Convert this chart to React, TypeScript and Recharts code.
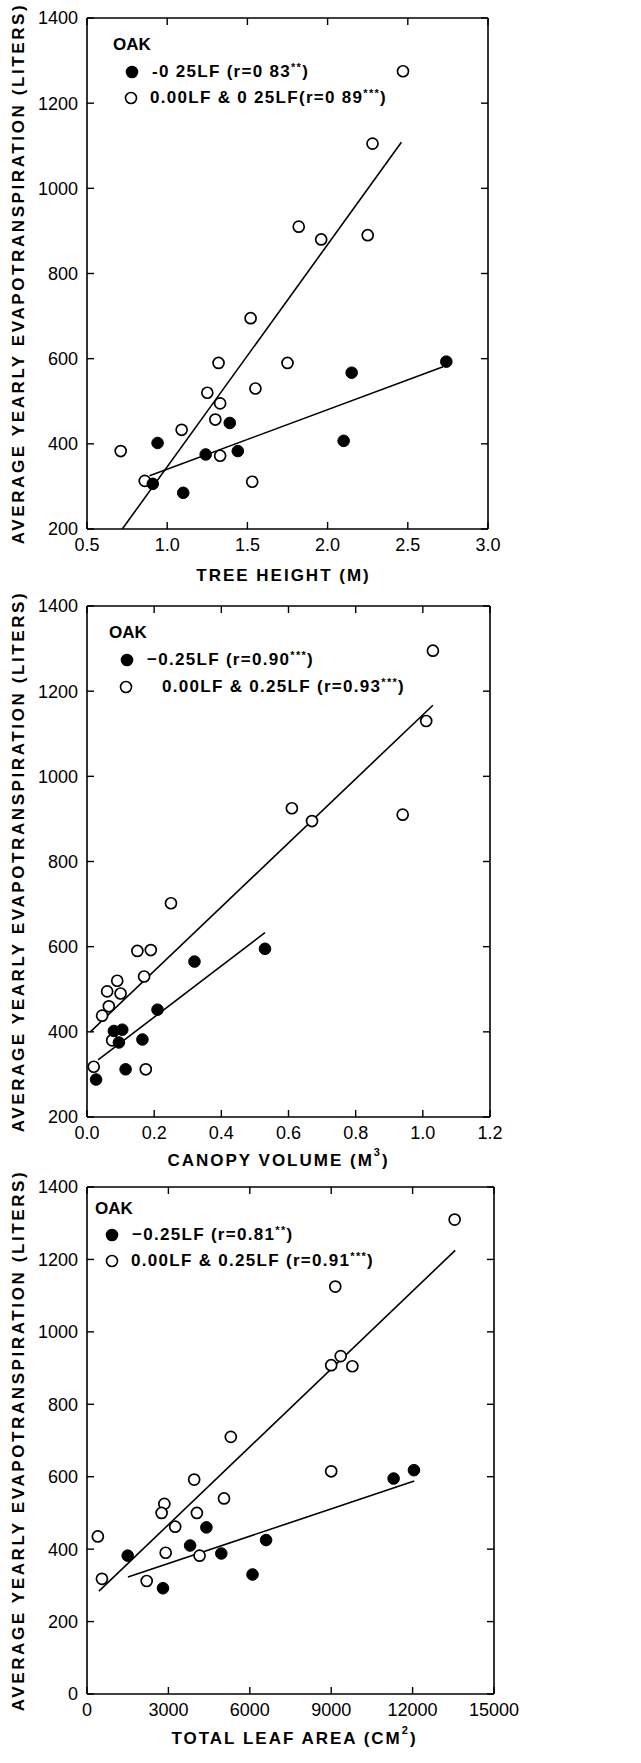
import React from "react";
import { ScatterChart, Scatter, XAxis, YAxis } from "recharts";

// ---- panel 1: tree height ----
const heightTicks = [0.5, 1.0, 1.5, 2.0, 2.5, 3.0];
const heightOpenX = [2.47, 2.28, 1.82, 1.96, 2.25, 1.52, 1.32, 1.75, 1.25, 1.33, 1.55, 1.30, 1.09, 0.71, 1.33, 0.86, 1.53];
const heightOpenY = [1275, 1105, 910, 880, 890, 695, 590, 590, 520, 495, 530, 457, 433, 383, 372, 313, 311];
const heightFilledX = [2.74, 2.15, 1.39, 0.94, 1.24, 1.44, 2.10, 0.91, 1.10];
const heightFilledY = [593, 567, 449, 402, 375, 383, 407, 306, 285];
const heightFitOpenX = [0.72, 2.46];
const heightFitOpenY = [200, 1108];
const heightFitFilledX = [0.89, 2.72];
const heightFitFilledY = [325, 581];

// ---- panel 2: canopy volume ----
const canopyTicks = [0, 0.2, 0.4, 0.6, 0.8, 1.0, 1.2];
const canopyOpenX = [1.03, 1.01, 0.61, 0.67, 0.94, 0.25, 0.15, 0.19, 0.17, 0.09, 0.06, 0.10, 0.065, 0.045, 0.075, 0.02, 0.175];
const canopyOpenY = [1295, 1130, 925, 895, 910, 702, 590, 592, 530, 520, 495, 490, 460, 438, 380, 318, 312];
const canopyFilledX = [0.53, 0.32, 0.21, 0.08, 0.105, 0.095, 0.165, 0.115, 0.027];
const canopyFilledY = [595, 565, 452, 402, 405, 375, 382, 312, 288];
const canopyFitOpenX = [0.01, 1.03];
const canopyFitOpenY = [400, 1167];
const canopyFitFilledX = [0.033, 0.53];
const canopyFitFilledY = [334, 633];

// ---- panel 3: total leaf area ----
const leafTicks = [0, 3000, 6000, 9000, 12000, 15000];
const leafOpenX = [13550, 9150, 9000, 9350, 9780, 5300, 9000, 3950, 5050, 2850, 2750, 4050, 3250, 400, 2900, 4150, 550, 2200];
const leafOpenY = [1310, 1125, 908, 933, 905, 710, 615, 592, 540, 525, 500, 500, 462, 435, 390, 382, 318, 312];
const leafFilledX = [12050, 11300, 4400, 3800, 1500, 4950, 6600, 6100, 2800];
const leafFilledY = [618, 595, 460, 410, 382, 388, 425, 330, 292];
const leafFitOpenX = [440, 13570];
const leafFitOpenY = [284, 1225];
const leafFitFilledX = [1510, 12060];
const leafFitFilledY = [323, 588];

const etTicks = [200, 400, 600, 800, 1000, 1200, 1400];
const etTicksZero = [0, 200, 400, 600, 800, 1000, 1200, 1400];

const Y_TITLE = "AVERAGE YEARLY EVAPOTRANSPIRATION (LITERS)";
const FONT = '"Liberation Sans", Arial, sans-serif';

const pairs = (xs: number[], ys: number[]) => xs.map((x, i) => ({ x, y: ys[i] }));

const OpenDot = (p: any) => (
  <circle cx={p.cx} cy={p.cy} r={5.5} fill="#fff" stroke="#000" strokeWidth={1.7} />
);
const FilledDot = (p: any) => (
  <circle cx={p.cx} cy={p.cy} r={5.8} fill="#000" stroke="#000" strokeWidth={1} />
);
const NoDot = () => <g />;
const NoTick = () => <g />;

const YTitle = (props: any) => {
  const vb = props.viewBox || { x: 0, y: 0, width: 0, height: 0 };
  const cx = (vb.x || 0) + 18;
  const cy = vb.y + vb.height / 2;
  return (
    <text
      x={cx}
      y={cy}
      transform={`rotate(-90 ${cx} ${cy})`}
      textAnchor="middle"
      dominantBaseline="central"
      fontFamily={FONT}
      fontWeight="bold"
      fontSize={17}
      letterSpacing={2.6}
      fill="#000"
    >
      {Y_TITLE}
    </text>
  );
};

const XTitle = (props: any) => {
  const vb = props.viewBox || { x: 0, y: 0, width: 0, height: 0 };
  const cx = vb.x + vb.width / 2 + (props.shift || 0);
  const cy = vb.y + props.dy;
  return (
    <text
      x={cx}
      y={cy}
      textAnchor="middle"
      dominantBaseline="central"
      fontFamily={FONT}
      fontWeight="bold"
      fontSize={17}
      letterSpacing={2}
      fill="#000"
    >
      {props.text}
      {props.sup ? (
        <tspan dy={-8} fontSize={11}>{props.sup}</tspan>
      ) : null}
      {props.sup ? <tspan dy={8}>)</tspan> : null}
    </text>
  );
};

const tickStyle = { fill: "#000", fontSize: 18, fontFamily: FONT };
const axisLine = { stroke: "#000", strokeWidth: 1.6 };
const tickLine = { stroke: "#000", strokeWidth: 1.4 };

type LegendRow = { mx: number; my: number; tx: number; filled: boolean; text: string; stars: string };

const Legend = ({ oak, rows }: { oak: [number, number]; rows: LegendRow[] }) => (
  <div style={{ position: "absolute", left: 0, top: 0, fontFamily: FONT, fontWeight: "bold", fontSize: 17, color: "#000" }}>
    <div style={{ position: "absolute", left: oak[0], top: oak[1] - 10, lineHeight: "20px", whiteSpace: "nowrap" }}>OAK</div>
    {rows.map((r, i) => (
      <React.Fragment key={i}>
        <svg style={{ position: "absolute", left: r.mx - 7, top: r.my - 7 }} width={14} height={14}>
          <circle cx={7} cy={7} r={5.5} fill={r.filled ? "#000" : "#fff"} stroke="#000" strokeWidth={1.6} />
        </svg>
        <div style={{ position: "absolute", left: r.tx, top: r.my - 10, lineHeight: "20px", whiteSpace: "nowrap", letterSpacing: 1.3 }}>
          {r.text}
          <span style={{ fontSize: 11, verticalAlign: "top", lineHeight: "11px" }}>{r.stars}</span>)
        </div>
      </React.Fragment>
    ))}
  </div>
);

type PanelProps = {
  top: number;
  height: number;
  plotTop: number;
  plotBottom: number;
  plotRight: number;
  xDomain: [number, number];
  xTicks: number[];
  xFmt: (v: number) => string;
  yDomain: [number, number];
  yTicks: number[];
  xTitle: string;
  xSup?: string;
  xTitleDy: number;
  xTitleShift: number;
  open: { x: number; y: number }[];
  filled: { x: number; y: number }[];
  fitOpen: { x: number; y: number }[];
  fitFilled: { x: number; y: number }[];
  oak: [number, number];
  rows: LegendRow[];
};

const Panel = (p: PanelProps) => {
  const xAxisH = p.height - p.plotBottom;
  return (
    <div style={{ position: "absolute", left: 0, top: p.top, width: 641, height: p.height }}>
      <ScatterChart
        width={641}
        height={p.height}
        margin={{ top: p.plotTop - 1, right: 641 - p.plotRight - 1, bottom: 0, left: 0 }}
      >
        <XAxis
          type="number"
          dataKey="x"
          domain={p.xDomain}
          ticks={p.xTicks}
          tickFormatter={p.xFmt}
          allowDataOverflow
          height={xAxisH}
          axisLine={axisLine}
          tickLine={tickLine}
          tickSize={-7}
          tickMargin={16}
          tick={tickStyle}
          interval={0}
          label={<XTitle text={p.xTitle} sup={p.xSup} dy={p.xTitleDy} shift={p.xTitleShift} />}
        />
        <XAxis
          xAxisId="top"
          orientation="top"
          type="number"
          dataKey="x"
          domain={p.xDomain}
          ticks={p.xTicks}
          allowDataOverflow
          height={1}
          axisLine={axisLine}
          tickLine={tickLine}
          tickSize={-7}
          tick={NoTick}
          interval={0}
        />
        <YAxis
          type="number"
          dataKey="y"
          domain={p.yDomain}
          ticks={p.yTicks}
          allowDataOverflow
          width={87}
          axisLine={axisLine}
          tickLine={tickLine}
          tickSize={-7}
          tickMargin={16}
          tick={tickStyle}
          interval={0}
          label={<YTitle />}
        />
        <YAxis
          yAxisId="right"
          orientation="right"
          type="number"
          dataKey="y"
          domain={p.yDomain}
          ticks={p.yTicks}
          allowDataOverflow
          width={1}
          axisLine={axisLine}
          tickLine={tickLine}
          tickSize={-7}
          tick={NoTick}
          interval={0}
        />
        {/* invisible series so the top / right frame axes get drawn */}
        <Scatter data={p.fitOpen} xAxisId="top" yAxisId="right" shape={NoDot} isAnimationActive={false} legendType="none" />
        <Scatter data={p.fitOpen} line={{ stroke: "#000", strokeWidth: 1.6 }} shape={NoDot} isAnimationActive={false} legendType="none" />
        <Scatter data={p.fitFilled} line={{ stroke: "#000", strokeWidth: 1.6 }} shape={NoDot} isAnimationActive={false} legendType="none" />
        <Scatter data={p.open} shape={OpenDot} isAnimationActive={false} legendType="none" />
        <Scatter data={p.filled} shape={FilledDot} isAnimationActive={false} legendType="none" />
      </ScatterChart>
      <Legend oak={p.oak} rows={p.rows} />
    </div>
  );
};

export default function App() {
  return (
    <div style={{ position: "absolute", left: 0, top: 0, width: 641, height: 1763, background: "#fff" }}>
      <Panel
        top={0}
        height={600}
        plotTop={18}
        plotBottom={529}
        plotRight={488}
        xDomain={[0.5, 3.0]}
        xTicks={heightTicks}
        xFmt={(v) => v.toFixed(1)}
        yDomain={[200, 1400]}
        yTicks={etTicks}
        xTitle="TREE HEIGHT (M)"
        xTitleDy={46}
        xTitleShift={-4}
        open={pairs(heightOpenX, heightOpenY)}
        filled={pairs(heightFilledX, heightFilledY)}
        fitOpen={pairs(heightFitOpenX, heightFitOpenY)}
        fitFilled={pairs(heightFitFilledX, heightFitFilledY)}
        oak={[113, 45]}
        rows={[
          { mx: 132, my: 72, tx: 152, filled: true, text: "-0 25LF  (r=0 83", stars: "**" },
          { mx: 131, my: 98, tx: 150, filled: false, text: "0.00LF & 0 25LF(r=0 89", stars: "***" },
        ]}
      />
      <Panel
        top={590}
        height={600}
        plotTop={16}
        plotBottom={527}
        plotRight={490}
        xDomain={[0, 1.2]}
        xTicks={canopyTicks}
        xFmt={(v) => v.toFixed(1)}
        yDomain={[200, 1400]}
        yTicks={etTicks}
        xTitle="CANOPY VOLUME (M"
        xSup="3"
        xTitleDy={43}
        xTitleShift={-10}
        open={pairs(canopyOpenX, canopyOpenY)}
        filled={pairs(canopyFilledX, canopyFilledY)}
        fitOpen={pairs(canopyFitOpenX, canopyFitOpenY)}
        fitFilled={pairs(canopyFitFilledX, canopyFitFilledY)}
        oak={[109, 43]}
        rows={[
          { mx: 127, my: 70, tx: 147, filled: true, text: "\u22120.25LF (r=0.90", stars: "***" },
          { mx: 126, my: 97, tx: 162, filled: false, text: "0.00LF & 0.25LF (r=0.93", stars: "***" },
        ]}
      />
      <Panel
        top={1170}
        height={593}
        plotTop={17}
        plotBottom={524}
        plotRight={494}
        xDomain={[0, 15000]}
        xTicks={leafTicks}
        xFmt={(v) => String(v)}
        yDomain={[0, 1400]}
        yTicks={etTicksZero}
        xTitle="TOTAL LEAF AREA (CM"
        xSup="2"
        xTitleDy={44}
        xTitleShift={4}
        open={pairs(leafOpenX, leafOpenY)}
        filled={pairs(leafFilledX, leafFilledY)}
        fitOpen={pairs(leafFitOpenX, leafFitOpenY)}
        fitFilled={pairs(leafFitFilledX, leafFitFilledY)}
        oak={[95, 39]}
        rows={[
          { mx: 112, my: 65, tx: 132, filled: true, text: "\u22120.25LF (r=0.81", stars: "**" },
          { mx: 112, my: 91, tx: 131, filled: false, text: "0.00LF & 0.25LF (r=0.91", stars: "***" },
        ]}
      />
    </div>
  );
}
